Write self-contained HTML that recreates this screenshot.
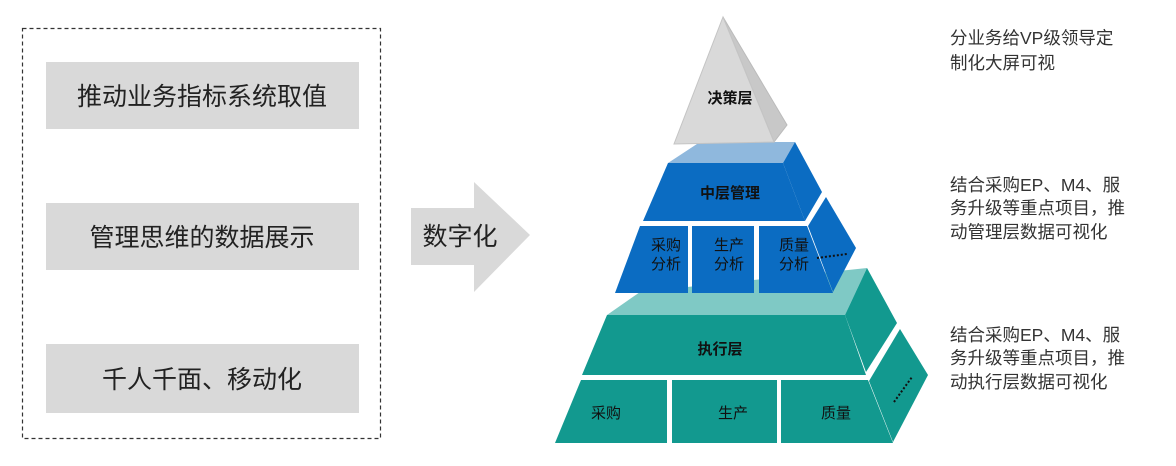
<!DOCTYPE html>
<html><head><meta charset="utf-8"><style>
html,body{margin:0;padding:0;background:#fff;}
svg{display:block;}
text{font-family:"Liberation Sans","Noto Sans CJK SC",sans-serif;}
</style></head><body>
<svg width="1176" height="466" viewBox="0 0 1176 466" xmlns="http://www.w3.org/2000/svg">
<rect x="22.5" y="28.5" width="358" height="410" fill="none" stroke="#333" stroke-width="1.2" stroke-dasharray="4,3"/>
<rect x="46" y="62" width="313" height="67" fill="#d9d9d9"/>
<rect x="46" y="203" width="313" height="67" fill="#d9d9d9"/>
<rect x="46" y="344" width="313" height="69" fill="#d9d9d9"/>
<g font-size="25" fill="#222" text-anchor="middle">
<text x="202" y="105">推动业务指标系统取值</text>
<text x="202" y="246">管理思维的数据展示</text>
<text x="202" y="388">千人千面、移动化</text>
</g>
<polygon points="411,208 474,208 474,182 530,235 474,292 474,265 411,265" fill="#d9d9d9"/>
<text x="460" y="245" font-size="25" fill="#222" text-anchor="middle">数字化</text>

<!-- bottom layer -->
<polygon points="607,315 640,292 867,268 845,315" fill="#7fc9c5"/>
<polygon points="607,315 845,315 866,375 582,375" fill="#12998f"/>
<polygon points="845,315 867,268 897,323 866,372" fill="#12998f"/>
<polygon points="900,329 928,375 893,442 869,381" fill="#12998f"/>
<polygon points="581,380 667,380 667,443 555,443" fill="#12998f"/>
<rect x="672" y="380" width="105" height="63" fill="#12998f"/>
<polygon points="781,380 868,380 893,443 781,443" fill="#12998f"/>

<!-- middle layer -->
<polygon points="668,163 700,142 795,142 783,163" fill="#8fb8dd"/>
<polygon points="668,163 783,163 805,221 643,221" fill="#0b6cc2"/>
<polygon points="783,163 795,142 822,192 805,221" fill="#0b6cc2"/>
<polygon points="826,197 856,248 833,292 808,226" fill="#0b6cc2"/>
<polygon points="640,226 688,226 688,293 615,293" fill="#0b6cc2"/>
<rect x="692" y="226" width="62" height="67" fill="#0b6cc2"/>
<polygon points="759,226 807,226 833,293 759,293" fill="#0b6cc2"/>

<!-- top -->
<polygon points="723,17 787,125 774,142" fill="#c8c8c8" stroke="#bbb"/>
<polygon points="723,17 774,142 674,144" fill="#d9d9d9" stroke="#c4c4c4"/>

<g fill="#111" text-anchor="middle" font-weight="bold" font-size="15">
<text x="730" y="103">决策层</text>
<text x="730" y="198">中层管理</text>
<text x="720" y="354">执行层</text>
</g>
<g fill="#111" text-anchor="middle" font-size="15">
<text x="666" y="250">采购</text><text x="666" y="269">分析</text>
<text x="729" y="250">生产</text><text x="729" y="269">分析</text>
<text x="794" y="250">质量</text><text x="794" y="269">分析</text>
<text x="606" y="418">采购</text>
<text x="733" y="418">生产</text>
<text x="836" y="418">质量</text>
</g>
<line x1="817" y1="258" x2="847" y2="254" stroke="#111" stroke-width="2" stroke-dasharray="2,2"/>
<line x1="894" y1="402" x2="912" y2="377" stroke="#111" stroke-width="2" stroke-dasharray="2,2"/>

<g font-size="17.5" fill="#333">
<text x="950" y="44">分业务给VP级领导定</text>
<text x="950" y="69">制化大屏可视</text>
<text x="950" y="191">结合采购EP、M4、服</text>
<text x="950" y="214">务升级等重点项目，推</text>
<text x="950" y="238">动管理层数据可视化</text>
<text x="950" y="341">结合采购EP、M4、服</text>
<text x="950" y="364">务升级等重点项目，推</text>
<text x="950" y="388">动执行层数据可视化</text>
</g>
</svg>
</body></html>
